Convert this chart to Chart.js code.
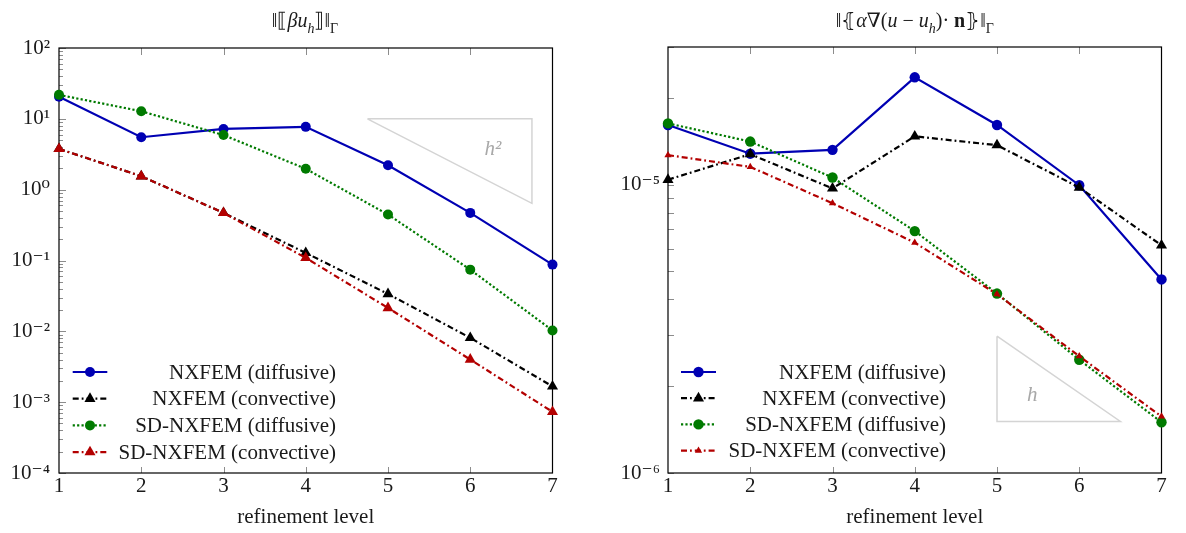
<!DOCTYPE html>
<html><head><meta charset="utf-8">
<script src="https://cdn.jsdelivr.net/npm/chart.js@4/dist/chart.umd.min.js"></script>
<style>
html,body{margin:0;padding:0;background:#fff;width:1186px;height:533px;overflow:hidden}
.w{position:absolute;top:0;height:533px}
</style></head><body>
<div class="w" style="left:0;width:600px"><canvas id="c1"></canvas></div>
<div class="w" style="left:600px;width:586px"><canvas id="c2"></canvas></div>
<script>
// ---------- data ----------
const levels = [1, 2, 3, 4, 5, 6, 7];
const seriesNames = ['NXFEM (diffusive)', 'NXFEM (convective)', 'SD-NXFEM (diffusive)', 'SD-NXFEM (convective)'];

// left panel: jump norm
const jumpNxfemDiff = [20.5, 5.5, 7.2, 7.7, 2.21, 0.47, 0.0875];
const jumpNxfemConv = [3.77, 1.55, 0.47, 0.128, 0.0337, 0.0081, 0.00167];
const jumpSdDiff    = [21.8, 12.8, 5.9, 1.97, 0.445, 0.0743, 0.0103];
const jumpSdConv    = [3.77, 1.55, 0.47, 0.109, 0.0214, 0.0040, 0.00073];
const jumpTicks      = [1e-4, 1e-3, 1e-2, 1e-1, 1, 10, 100];
const jumpTickLabels = ['10⁻⁴', '10⁻³', '10⁻²', '10⁻¹', '10⁰', '10¹', '10²'];
const jumpSlopeX = [4.75, 6.75, 6.75, 4.75];
const jumpSlopeY = [10, 10, 0.64, 10];

// right panel: flux norm
const fluxNxfemDiff = [1.61e-5, 1.28e-5, 1.32e-5, 2.355e-5, 1.61e-5, 9.95e-6, 4.69e-6];
const fluxNxfemConv = [1.04e-5, 1.275e-5, 9.7e-6, 1.47e-5, 1.37e-5, 9.77e-6, 6.16e-6];
const fluxSdDiff    = [1.63e-5, 1.41e-5, 1.058e-5, 6.9e-6, 4.19e-6, 2.47e-6, 1.5e-6];
const fluxSdConv    = [1.265e-5, 1.152e-5, 8.62e-6, 6.29e-6, 4.17e-6, 2.54e-6, 1.57e-6];
const fluxTicks      = [1e-6, 1e-5];
const fluxTickLabels = ['10⁻⁶', '10⁻⁵'];
const fluxSlopeX = [5, 5, 6.5, 5];
const fluxSlopeY = [2.98e-6, 1.51e-6, 1.51e-6, 2.98e-6];

// ---------- styling ----------
const FONT = '"Liberation Serif","DejaVu Serif",serif';
const TXT = '#1a1a1a';
const BLUE = '#0000b3', BLACK = '#000000', GREEN = '#007a00', RED = '#b30000';
const DASHDOT = [6, 3, 1.8, 3];
const DOTTED = [2.2, 2.2];

function mk(label, vals, color, dash, style, r, order) {
  return {
    label, data: levels.map((x, i) => ({x, y: vals[i]})),
    borderColor: color, backgroundColor: color, borderWidth: 2.2, borderDash: dash,
    pointStyle: style, pointRadius: r, pointHoverRadius: r, pointBorderWidth: 0,
    pointBackgroundColor: color, tension: 0, clip: false, order
  };
}
function slope(xs, ys) {
  return {label: 'slope', data: xs.map((x, i) => ({x, y: ys[i]})), borderColor: '#d4d4d4',
    borderWidth: 1.5, pointRadius: 0, order: 10, clip: false, tension: 0};
}

function richText(ctx, segs, cx, baseY, size, color) {
  const f = s => (s.b ? 'bold ' : '') + (s.i ? 'italic ' : '') + (s.sub ? size * 0.7 : size) + 'px ' + FONT;
  let w = 0;
  segs.forEach(s => { ctx.font = f(s); s.w = ctx.measureText(s.t).width; w += s.w; });
  let x = cx - w / 2;
  ctx.fillStyle = color; ctx.textAlign = 'left'; ctx.textBaseline = 'alphabetic';
  segs.forEach(s => { ctx.font = f(s); ctx.fillText(s.t, x, baseY + (s.sub ? size * 0.28 : 0)); x += s.w; });
}
function marker(ctx, style, x, y, r, color) {
  ctx.fillStyle = color; ctx.beginPath();
  if (style === 'circle') { ctx.arc(x, y, r, 0, Math.PI * 2); }
  else {
    for (let k = 0; k < 3; k++) {
      const a = k * 2 * Math.PI / 3;
      const px = x + Math.sin(a) * r, py = y - Math.cos(a) * r;
      k ? ctx.lineTo(px, py) : ctx.moveTo(px, py);
    }
    ctx.closePath();
  }
  ctx.fill();
}

const decor = {
  id: 'decor',
  beforeDatasetsDraw(chart, args, o) {
    const {ctx, chartArea: a, scales: {x, y}} = chart;
    ctx.save();
    ctx.strokeStyle = '#8c8c8c'; ctx.lineWidth = 1; ctx.beginPath();
    levels.slice(1, -1).forEach(v => {
      const px = Math.round(x.getPixelForValue(v)) + 0.5;
      ctx.moveTo(px, a.top); ctx.lineTo(px, a.top + 7);
      ctx.moveTo(px, a.bottom); ctx.lineTo(px, a.bottom - 6);
    });
    const lo = Math.floor(Math.log10(y.min)), hi = Math.ceil(Math.log10(y.max));
    for (let d = lo; d <= hi; d++) {
      for (let k = 1; k <= 9; k++) {
        const v = k * Math.pow(10, d);
        if (v < y.min * 0.999 || v > y.max * 1.001) continue;
        const py = Math.round(y.getPixelForValue(v)) + 0.5;
        const len = k === 1 ? o.majorLen : o.minorLen;
        ctx.moveTo(a.left, py); ctx.lineTo(a.left + len, py);
      }
    }
    ctx.stroke();
    ctx.strokeStyle = '#000'; ctx.lineWidth = 1.2;
    ctx.strokeRect(a.left, a.top, a.right - a.left, a.bottom - a.top);
    ctx.restore();
  },
  afterDatasetsDraw(chart, args, o) {
    const {ctx, scales: {x, y}} = chart;
    ctx.save();
    ctx.fillStyle = '#a8a8a8'; ctx.font = 'italic 21px ' + FONT;
    ctx.textAlign = 'center'; ctx.textBaseline = 'middle';
    ctx.fillText(o.slopeText, x.getPixelForValue(o.slopeAt[0]), y.getPixelForValue(o.slopeAt[1]));
    ctx.restore();
  },
  afterDraw(chart, args, o) {
    const ctx = chart.ctx;
    ctx.save();
    richText(ctx, o.title, o.titleX, o.titleY, 20, TXT);
    for (let i = 0; i < 4; i++) {
      const ds = chart.data.datasets[i];
      const yy = o.legY0 + i * o.legDy;
      ctx.strokeStyle = ds.borderColor; ctx.lineWidth = ds.borderWidth; ctx.setLineDash(ds.borderDash);
      ctx.beginPath(); ctx.moveTo(o.legX1, yy); ctx.lineTo(o.legX2, yy); ctx.stroke();
      ctx.setLineDash([]);
      marker(ctx, ds.pointStyle, (o.legX1 + o.legX2) / 2, yy, ds.pointRadius, ds.borderColor);
      ctx.fillStyle = TXT; ctx.font = '21px ' + FONT; ctx.textAlign = 'right'; ctx.textBaseline = 'middle';
      ctx.fillText(ds.label, o.legXR, yy + 1);
    }
    ctx.restore();
  }
};

function makeChart(id, cfg) {
  return new Chart(document.getElementById(id), {
    type: 'line',
    data: {datasets: cfg.datasets},
    options: {
      responsive: true, maintainAspectRatio: false, animation: false,
      events: [],
      layout: {padding: cfg.padding},
      plugins: {legend: {display: false}, title: {display: false}, tooltip: {enabled: false}, decor: cfg.decor},
      scales: {
        x: {
          type: 'linear', min: 1, max: 7,
          afterBuildTicks: s => { s.ticks = levels.map(v => ({value: v})); },
          grid: {display: false, drawTicks: false}, border: {display: false},
          ticks: {font: {family: FONT, size: 21}, color: TXT, padding: 1, maxRotation: 0, autoSkip: false,
            callback: v => String(v)},
          title: {display: true, text: 'refinement level', font: {family: FONT, size: 21}, color: TXT,
            padding: {top: 0, bottom: 3}},
          afterFit: s => { s.height = 60; }
        },
        y: {
          type: 'logarithmic', min: cfg.ymin, max: cfg.ymax,
          afterBuildTicks: s => { s.ticks = cfg.ticks.map(v => ({value: v})); },
          grid: {display: false, drawTicks: false}, border: {display: false},
          ticks: {font: {family: FONT, size: 21}, color: TXT, padding: cfg.tickPad, autoSkip: false,
            callback: (v, i) => cfg.tickLabels[i]},
          afterFit: s => { s.width = cfg.yWidth; }
        }
      }
    },
    plugins: [decor]
  });
}

makeChart('c1', {
  datasets: [
    mk(seriesNames[0], jumpNxfemDiff, BLUE, [], 'circle', 5, 4),
    mk(seriesNames[1], jumpNxfemConv, BLACK, DASHDOT, 'triangle', 6.4, 3),
    mk(seriesNames[2], jumpSdDiff, GREEN, DOTTED, 'circle', 5, 2),
    mk(seriesNames[3], jumpSdConv, RED, DASHDOT, 'triangle', 6.4, 1),
    slope(jumpSlopeX, jumpSlopeY)
  ],
  padding: {left: 0, top: 48, right: 47.5, bottom: 0},
  ymin: 1e-4, ymax: 100, ticks: jumpTicks, tickLabels: jumpTickLabels, tickPad: 9, yWidth: 59,
  decor: {
    majorLen: 7, minorLen: 4,
    slopeText: 'h²', slopeAt: [6.276, 3.68],
    title: [{t: '‖⟦'}, {t: 'βu', i: true}, {t: 'h', i: true, sub: true}, {t: '⟧‖'}, {t: 'Γ', sub: true}],
    titleX: 305, titleY: 27,
    legY0: 372, legDy: 26.7, legX1: 72.7, legX2: 107.3, legXR: 336
  }
});

makeChart('c2', {
  datasets: [
    mk(seriesNames[0], fluxNxfemDiff, BLUE, [], 'circle', 5.2, 4),
    mk(seriesNames[1], fluxNxfemConv, BLACK, DASHDOT, 'triangle', 6.4, 3),
    mk(seriesNames[2], fluxSdDiff, GREEN, DOTTED, 'circle', 5.2, 2),
    mk(seriesNames[3], fluxSdConv, RED, DASHDOT, 'triangle', 4.2, 1),
    slope(fluxSlopeX, fluxSlopeY)
  ],
  padding: {left: 0, top: 47, right: 24.5, bottom: 0},
  ymin: 1e-6, ymax: 3e-5, ticks: fluxTicks, tickLabels: fluxTickLabels, tickPad: 8, yWidth: 68,
  decor: {
    majorLen: 6, minorLen: 6,
    slopeText: 'h', slopeAt: [5.428, 1.855e-6],
    title: [{t: '‖⦃'}, {t: 'α', i: true}, {t: '∇('}, {t: 'u', i: true}, {t: ' − '}, {t: 'u', i: true},
            {t: 'h', i: true, sub: true}, {t: ')· '}, {t: 'n', b: true}, {t: '⦄‖'}, {t: 'Γ', sub: true}],
    titleX: 314.8, titleY: 27,
    legY0: 372, legDy: 26.2, legX1: 81, legX2: 116, legXR: 346
  }
});
</script>
</body></html>
